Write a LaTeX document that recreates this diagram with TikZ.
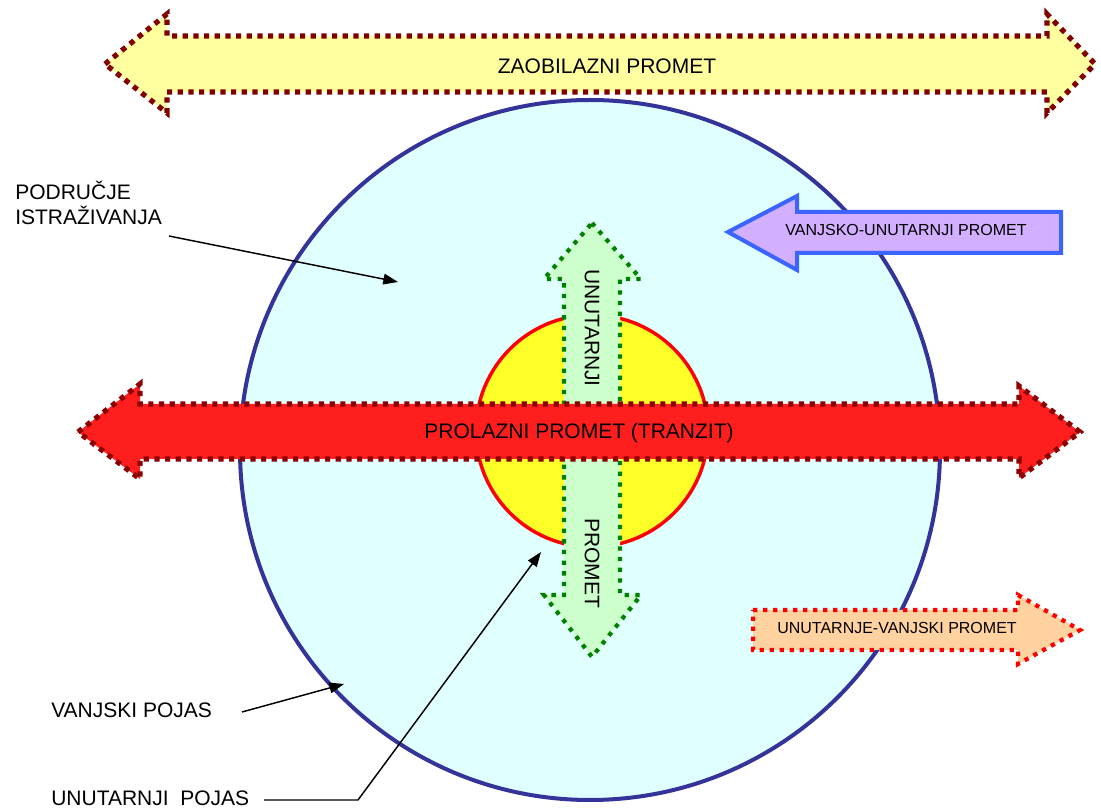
\documentclass[tikz,border=0pt]{standalone}
\usepackage{fontspec}
\setmainfont{Liberation Sans}
\usetikzlibrary{arrows.meta}
\definecolor{bigfill}{RGB}{224,255,255}
\definecolor{bigline}{RGB}{51,51,153}
\definecolor{innerfill}{RGB}{255,255,40}
\definecolor{yelfill}{RGB}{255,255,160}
\definecolor{darkred}{RGB}{128,0,0}
\definecolor{redfill}{RGB}{255,30,30}
\definecolor{redline}{RGB}{140,0,0}
\definecolor{greenfill}{RGB}{204,255,204}
\definecolor{greenline}{RGB}{0,128,0}
\definecolor{purfill}{RGB}{210,175,255}
\definecolor{purline}{RGB}{60,100,255}
\definecolor{orfill}{RGB}{255,210,160}
\tikzset{
  bigtext/.style={font=\fontsize{15.75}{19}\selectfont, inner sep=0pt},
  smalltext/.style={font=\fontsize{12}{14}\selectfont, inner sep=0pt},
  dotborder/.style={line width=3.9pt, dash pattern=on 3.9pt off 4.1pt, line join=miter},
  ptr/.style={line width=1.1pt, -{Triangle[length=11pt,width=8pt]}},
  plainline/.style={line width=1.1pt}
}
\begin{document}
\begin{tikzpicture}[x=0.75pt,y=-0.75pt]
\useasboundingbox (0,0) rectangle (1101,812);
% big circle
\draw[fill=bigfill, draw=bigline, line width=3pt] (590,450) circle (350);
% inner circle
\draw[fill=innerfill, draw=red, line width=2.6pt] (592,431) circle (116);
% zaobilazni arrow
\draw[dotborder, draw=darkred, fill=yelfill]
  (105,64) -- (167,14) -- (167,36) -- (1047,36) -- (1047,14) -- (1095,64)
  -- (1047,113) -- (1047,92) -- (167,92) -- (167,113) -- cycle;
\node[bigtext] (zao) at (607,66) {ZAOBILAZNI PROMET};
% green vertical arrow
\draw[dotborder, line width=3.2pt, dash pattern=on 3.2pt off 4.8pt, draw=greenline, fill=greenfill]
  (592,223) -- (641,279) -- (620,279) -- (620,595) -- (641,595) -- (592,657)
  -- (544,595) -- (564,595) -- (564,279) -- (544,279) -- cycle;
\node[bigtext, rotate=-90] (unut) at (592,328) {UNUTARNJI};
\node[bigtext, rotate=-90] (prom) at (592,563) {PROMET};
% red transit arrow
\draw[dotborder, draw=redline, fill=redfill]
  (78,432) -- (140,384) -- (140,404) -- (1019,404) -- (1019,386) -- (1080,432)
  -- (1019,478) -- (1019,459) -- (140,459) -- (140,479) -- cycle;
\node[bigtext] (prol) at (579,433) {PROLAZNI PROMET (TRANZIT)};
% purple arrow
\draw[draw=purline, fill=purfill, line width=3pt, line join=miter]
  (728,232) -- (797,196) -- (797,212) -- (1061,212) -- (1061,253) -- (797,253)
  -- (797,270) -- cycle;
\node[smalltext] (vu) at (906,230) {VANJSKO-UNUTARNJI PROMET};
% orange arrow
\draw[dotborder, line width=3.2pt, dash pattern=on 3.2pt off 4.3pt, draw=red, fill=orfill]
  (753,610) -- (1018,610) -- (1018,595) -- (1080,630) -- (1018,664) -- (1018,650)
  -- (753,650) -- cycle;
\node[smalltext] (uv) at (897,628) {UNUTARNJE-VANJSKI PROMET};
% labels
\node[bigtext, anchor=base west] (podr) at (15,200) {PODRUČJE};
\node[bigtext, anchor=base west] (istr) at (15,225) {ISTRAŽIVANJA};
\coordinate (podrS) at (169,236);
\coordinate (podrT) at (398,282);
\draw[ptr] (podrS) -- (podrT);
\node[bigtext, anchor=base west] (vp) at (51,718) {VANJSKI POJAS};
\coordinate (vpS) at (242,712);
\coordinate (vpT) at (344,684);
\draw[ptr] (vpS) -- (vpT);
\node[bigtext, anchor=base west] (up) at (51,806) {UNUTARNJI\ \ POJAS};
\coordinate (upS) at (264,800);
\coordinate (upK) at (358,800);
\coordinate (upT) at (541,552);
\draw[ptr] (upS) -- (upK) -- (upT);
\end{tikzpicture}
\end{document}
